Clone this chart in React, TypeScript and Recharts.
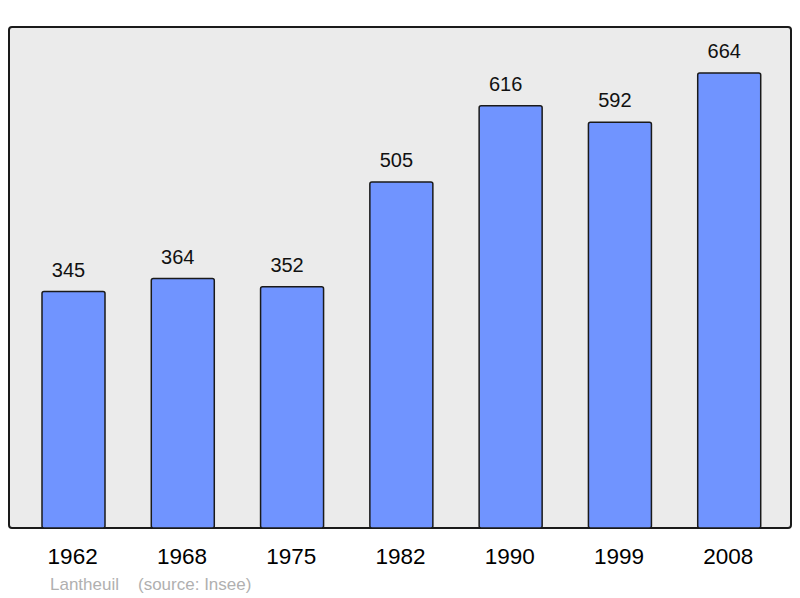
import React from "react";
import { BarChart, Bar, XAxis, YAxis, LabelList } from "recharts";

const years = ["1962", "1968", "1975", "1982", "1990", "1999", "2008"];
const population = [345, 364, 352, 505, 616, 592, 664];

const data = years.map((year, i) => ({ year, value: population[i] }));

const YearTick = (props: any) => {
  const { x, y, payload } = props;
  return (
    <text x={x - 1} y={y + 34} textAnchor="middle" fontSize={22.5} fill="#000">
      {payload.value}
    </text>
  );
};

// value above each bar, nudged a bit left like the original
const ValueLabel = (props: any) => {
  const { x, y, width, value } = props;
  return (
    <text
      x={x + width / 2 - 5}
      y={y - 15}
      textAnchor="middle"
      fontSize={20}
      fill="#111"
    >
      {value}
    </text>
  );
};

const App = () => (
  <div
    style={{
      position: "absolute",
      left: 0,
      top: 0,
      width: 800,
      height: 598,
      background: "#fff",
      fontFamily: "'Liberation Sans', Arial, sans-serif",
    }}
  >
    <div
      style={{
        position: "absolute",
        left: 8,
        top: 26,
        width: 780,
        height: 499,
        background: "#ebebeb",
        border: "2px solid #1a1a1a",
        borderRadius: 4,
      }}
    />
    <div style={{ position: "absolute", left: 0, top: 0 }}>
      <BarChart
        width={800}
        height={598}
        data={data}
        margin={{ top: 27, right: 9, left: 9, bottom: 40 }}
      >
        <XAxis
          dataKey="year"
          height={30}
          axisLine={false}
          tickLine={false}
          tickSize={0}
          padding={{ left: 10, right: 7 }}
          tick={<YearTick />}
          interval={0}
        />
        <YAxis hide domain={[0, 731]} />
        <Bar
          dataKey="value"
          fill="#7094ff"
          stroke="#1a1a1a"
          strokeWidth={1.5}
          radius={2}
          barSize={63}
          isAnimationActive={false}
        >
          <LabelList dataKey="value" content={<ValueLabel />} />
        </Bar>
      </BarChart>
    </div>
    <div
      style={{
        position: "absolute",
        left: 50,
        top: 575,
        fontSize: 17,
        color: "#b0b0b0",
        whiteSpace: "pre",
      }}
    >
      Lantheuil
    </div>
    <div
      style={{
        position: "absolute",
        left: 138,
        top: 575,
        fontSize: 17,
        color: "#b0b0b0",
        whiteSpace: "pre",
      }}
    >
      (source: Insee)
    </div>
  </div>
);

export default App;
